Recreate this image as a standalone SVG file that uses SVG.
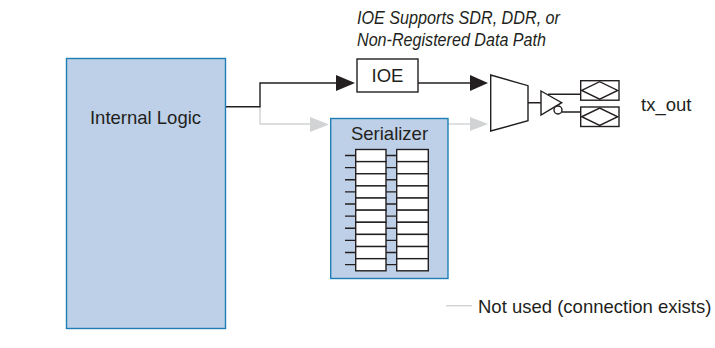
<svg xmlns="http://www.w3.org/2000/svg" width="715" height="348" viewBox="0 0 715 348">
<style>
text{font-family:"Liberation Sans",Arial,sans-serif;font-size:18.5px;fill:#231f20}
.blue{fill:#bdd0e7;stroke:#1f7fb5;stroke-width:1.4}
.box{fill:#fff;stroke:#231f20;stroke-width:1.4}
.w{fill:none;stroke:#231f20;stroke-width:1.4}
.g{fill:none;stroke:#d1d3d4;stroke-width:1.4}
.it{font-style:italic;font-size:17.5px}
</style>
<defs>
<g id="cell"><rect class="box" x="355.700" y="0" width="30.300" height="12.130"/><rect class="box" x="396.700" y="0" width="31.600" height="12.130"/><path class="w" d="M345 6H355.700M386 6H396.700"/></g>
<g id="io"><rect class="box" x="0" y="0" width="38.300" height="19.500"/><path class="w" d="M1 9.750L19 1L37 9.750L19 18.500Z"/></g>
</defs>
<g id="connectors">
<path class="g" d="M260 106V124H312"/>
<path d="M329 124.500L310 117V132Z" fill="#d1d3d4"/>
<path class="g" d="M448 124H472"/>
<path d="M488 124L470 117V131Z" fill="#d1d3d4"/>
<path class="w" d="M226 106.700H260V83H338"/>
<path d="M355 83L336 75V91Z" fill="#231f20"/>
<path class="w" d="M418 83H472"/>
<path d="M488 83L470 75V91Z" fill="#231f20"/>
<path class="w" d="M528 102.700H541M548 94.300H581M562 112H581"/>
<path class="g" d="M446 305.700H472"/>
</g>
<g id="internal-logic"><rect class="blue" x="66.500" y="58.500" width="159" height="270"/><text x="145.500" y="124" text-anchor="middle">Internal Logic</text></g>
<g id="ioe"><rect class="box" x="357" y="59" width="61" height="33"/><text x="387.500" y="82" text-anchor="middle">IOE</text></g>
<g id="ioe-note"><text class="it" x="357" y="23.500" textLength="203" lengthAdjust="spacingAndGlyphs">IOE Supports SDR, DDR, or</text><text class="it" x="357" y="45.500" textLength="189" lengthAdjust="spacingAndGlyphs">Non-Registered Data Path</text></g>
<g id="serializer"><rect class="blue" x="330.700" y="118.500" width="117.300" height="160"/><text x="389.500" y="140" text-anchor="middle">Serializer</text>
<use href="#cell" y="149.500"/><use href="#cell" y="161.630"/><use href="#cell" y="173.760"/><use href="#cell" y="185.890"/><use href="#cell" y="198.020"/><use href="#cell" y="210.150"/><use href="#cell" y="222.280"/><use href="#cell" y="234.410"/><use href="#cell" y="246.540"/><use href="#cell" y="258.670"/></g>
<g id="mux"><path class="box" d="M490.700 75L528 85.700V120.700L490.700 131Z"/></g>
<g id="driver"><path class="box" d="M541 91L561.700 102.700L541 115Z"/><circle class="box" cx="558" cy="110" r="4"/></g>
<g id="output-pins"><use href="#io" x="580.700" y="80.700"/><use href="#io" x="580.700" y="107"/></g>
<g id="tx-out"><text x="641" y="111">tx_out</text></g>
<g id="legend"><text x="478" y="312.500">Not used (connection exists)</text></g>
</svg>
